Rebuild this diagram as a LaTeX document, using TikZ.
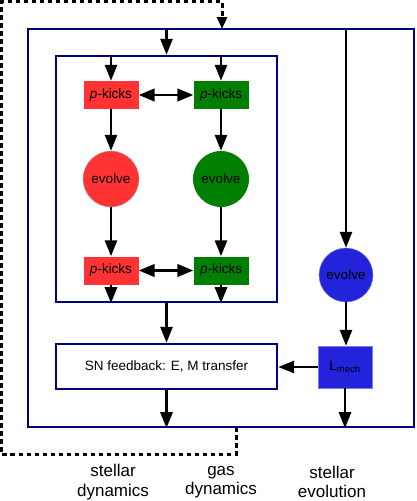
\documentclass[tikz,border=0pt]{standalone}
\usepackage{fontspec}
\setmainfont{Liberation Sans}
\usetikzlibrary{arrows.meta}
\definecolor{myred}{HTML}{FF3333}
\definecolor{mygreen}{HTML}{007F00}
\definecolor{myblue}{HTML}{2323DC}
\definecolor{navy}{HTML}{000080}
\tikzset{
  frame/.style={draw=navy, line width=2.4pt, fill=none, inner sep=0pt},
  kick/.style={minimum width=55pt, minimum height=28pt, inner sep=0pt, font=\fontsize{13.5}{15}\selectfont},
  evo/.style={circle, minimum size=56pt, inner sep=0pt, font=\fontsize{13.5}{15}\selectfont},
  arr/.style={line width=2.7pt, -{Triangle[length=16pt,width=12pt]}},
  darr/.style={line width=2.7pt, {Triangle[length=16pt,width=12.5pt]}-{Triangle[length=16pt,width=12.5pt]}},
  dline/.style={line width=3pt, dash pattern=on 4.5pt off 3.5pt, -{Triangle[length=12pt,width=10pt]}},
  lab/.style={align=center, font=\fontsize{17}{19.5}\selectfont}
}
\begin{document}
\begin{tikzpicture}[x=1pt,y=-1pt]
\useasboundingbox (0,0) rectangle (416,501);
\node[frame, minimum width=386pt, minimum height=398pt] (outer) at (221,228) {};
\node[frame, minimum width=221pt, minimum height=246pt] (inner) at (166.5,179) {};
\node[frame, fill=white, minimum width=221pt, minimum height=45pt, font=\fontsize{13.5}{15}\selectfont] (sn) at (166.5,366.5) {SN feedback: E, M transfer};

\node[kick, fill=myred] (pk1) at (111,95) {\textit{p}-kicks};
\node[kick, fill=mygreen] (pk2) at (221,95) {\textit{p}-kicks};
\node[evo, fill=myred, draw=gray!60, line width=0.4pt] (ev1) at (111,179) {evolve};
\node[evo, fill=mygreen] (ev2) at (221,179) {evolve};
\node[kick, fill=myred] (pk3) at (111,270.5) {\textit{p}-kicks};
\node[kick, fill=mygreen] (pk4) at (221,270.5) {\textit{p}-kicks};
\node[evo, fill=myblue, draw=myblue!60, line width=0.4pt, minimum size=54pt] (ev3) at (346,275) {evolve};
\node[fill=myblue, draw=myblue!60, line width=0.4pt, minimum width=54pt, minimum height=42pt, inner sep=0pt, font=\fontsize{13.5}{15}\selectfont] (lm) at (345,367) {L\textsubscript{mech}};

% arrows
\draw[arr] (inner.north |- outer.north) -- (inner.north);
\draw[arr] (pk1 |- inner.north) -- (pk1.north);
\draw[arr] (pk2 |- inner.north) -- (pk2.north);
\draw[darr] (pk1.east) -- (pk2.west);
\draw[arr] (pk1.south) -- (ev1.north);
\draw[arr] (pk2.south) -- (ev2.north);
\draw[arr] (ev1.south) -- (pk3.north);
\draw[arr] (ev2.south) -- (pk4.north);
\draw[darr] (pk3.east) -- (pk4.west);
\draw[arr] (pk3.south) -- (pk3 |- inner.south);
\draw[arr] (pk4.south) -- (pk4 |- inner.south);
\draw[arr] (inner.south) -- (sn.north);
\draw[arr] (sn.south) -- (sn.south |- outer.south);
\draw[arr] (ev3 |- outer.north) -- (ev3.north);
\draw[arr] (ev3.south) -- (ev3.south |- lm.north);
\draw[arr] (lm.west) -- (lm.west -| sn.east);
\draw[arr] (lm.south) -- (lm.south |- outer.south);

% dashed loop
\coordinate (dstart) at (236,427);
\coordinate (dtop) at (222,29);
\draw[dline] (dstart) -- (236,454) -- (1.5,454) -- (1.5,1.5) -- (222,1.5) -- (dtop);

% labels
\node[lab] (l1) at (113,482) {stellar\\dynamics};
\node[lab] (l2) at (221,482) {gas\\dynamics};
\node[lab] (l3) at (332,482) {stellar\\evolution};
\end{tikzpicture}
\end{document}
